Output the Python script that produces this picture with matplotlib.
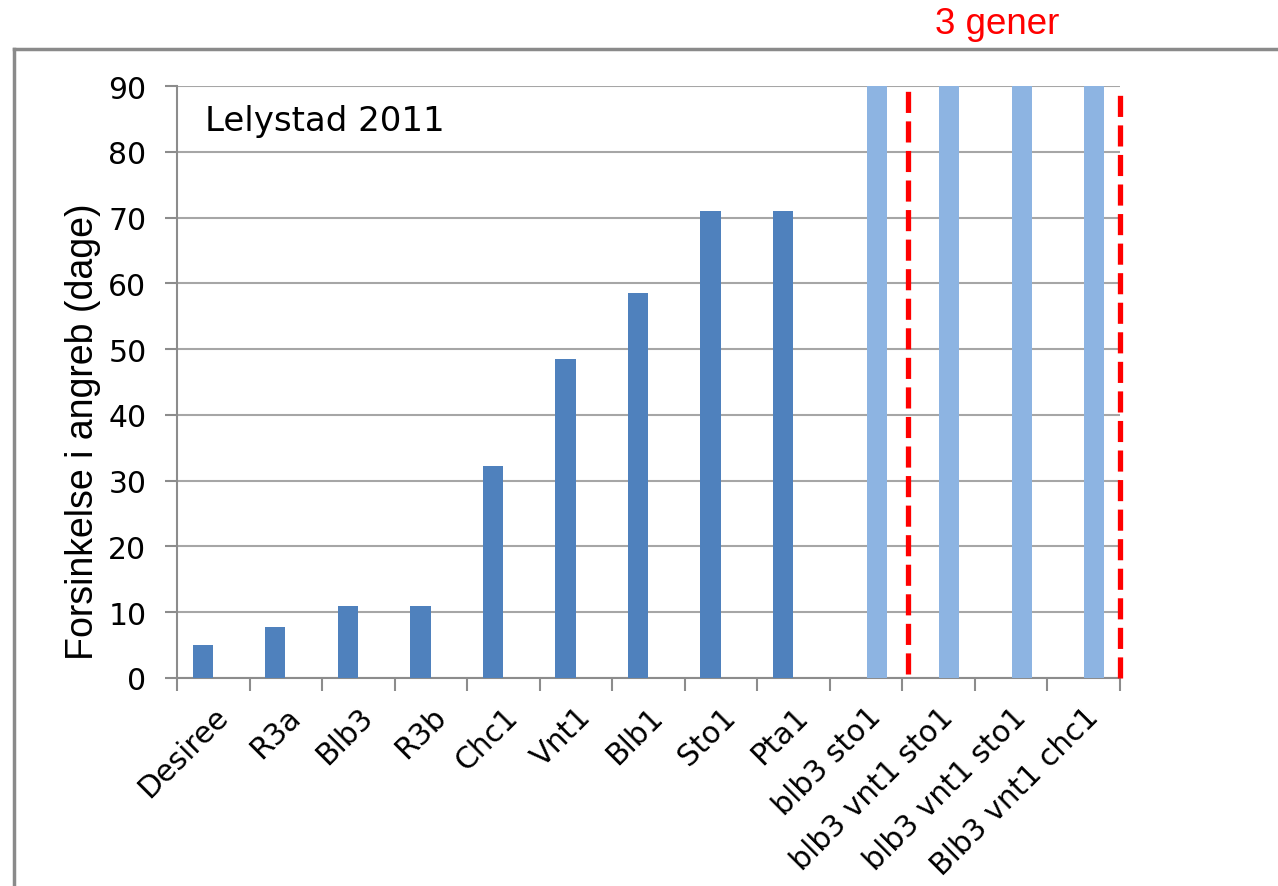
import matplotlib
matplotlib.use("Agg")
import matplotlib.pyplot as plt
import matplotlib.transforms as mtransforms
import numpy as np
from matplotlib.lines import Line2D

# delay of late blight attack per resistance gene / gene stack
genes = ['Desiree', 'R3a', 'Blb3', 'R3b', 'Chc1', 'Vnt1', 'Blb1', 'Sto1', 'Pta1',
         'blb3 sto1', 'blb3 vnt1 sto1', 'blb3 vnt1 sto1', 'Blb3 vnt1 chc1']
single_gene = [5, 7.8, 11, 11, 32.2, 48.5, 58.5, 71, 71, 0, 0, 0, 0]
gene_stack = [0, 0, 0, 0, 0, 0, 0, 0, 0, 90, 90, 90, 90]
yticks = list(range(0, 100, 10))

DARK = "#4F81BD"
LIGHT = "#8DB4E2"
AXIS_GREY = "#8C8C8C"
TICK_FONT = "DejaVu Sans"

fig = plt.figure(figsize=(12.78, 8.87), dpi=100)
fig.patch.set_facecolor("white")
ax = fig.add_axes([0.1385, 0.2345, 0.7379, 0.6674])

# two series side by side, as in a clustered column chart
x = np.arange(len(genes))
ax.bar(x - 0.145, single_gene, width=0.28, color=DARK, zorder=3)
ax.bar(x + 0.145, gene_stack, width=0.28, color=LIGHT, zorder=3)

ax.set_xlim(-0.5, len(genes) - 0.5)
ax.set_ylim(0, 90)
ax.set_yticks(yticks)
ax.set_yticklabels([str(v) for v in yticks], fontsize=21.5, family=TICK_FONT)
ax.yaxis.grid(True, color="#A6A6A6", linewidth=1.5, zorder=0)
ax.set_axisbelow(True)

for s in ['top', 'right']:
    ax.spines[s].set_visible(False)
for s in ['left', 'bottom']:
    ax.spines[s].set_color(AXIS_GREY)
    ax.spines[s].set_linewidth(1.5)

ax.tick_params(axis='y', length=9, width=1.5, color=AXIS_GREY, pad=13)
# labels centred under categories, tick marks between categories
ax.set_xticks(x)
labels = ax.set_xticklabels(genes, rotation=45, ha='right', va='top',
                            rotation_mode='anchor', fontsize=21.5,
                            family=TICK_FONT)
shift = mtransforms.ScaledTranslation(-5 / 100, 0, fig.dpi_scale_trans)
for lab in labels:
    lab.set_transform(lab.get_transform() + shift)
ax.tick_params(axis='x', which='major', length=0, pad=17)
ax.set_xticks(np.arange(-0.5, len(genes)), minor=True)
ax.tick_params(axis='x', which='minor', length=9, width=1.5, color=AXIS_GREY)

ax.set_ylabel("Forsinkelse i angreb (dage)", fontsize=27,
              family="Liberation Sans")
ax.yaxis.set_label_coords(-0.081, 0.417)

ax.text(0.03, 0.941, "Lelystad 2011", transform=ax.transAxes,
        fontsize=24.5, family=TICK_FONT, va='center', ha='left')

# red dashed brackets around the 3-gene stacks
for xs, y0, y1 in [(9.58, 0.6, 90), (12.5, 0, 89)]:
    ax.add_line(Line2D([xs, xs], [y0, y1], color="red", linewidth=3.8,
                       linestyle=(0, (4, 1.6)), clip_on=False, zorder=4))

fig.text(997 / 1278, 1 - 24 / 887, "3 gener", color="red", fontsize=26.5,
         family="Liberation Sans", ha='center', va='center')

# slide frame
fig.add_artist(Line2D([14 / 1278, 1.0], [1 - 50 / 887, 1 - 50 / 887],
                      color="#8A8A8A", linewidth=2.5))
fig.add_artist(Line2D([14 / 1278, 14 / 1278], [1 - 50 / 887, 0.0],
                      color="#8A8A8A", linewidth=2.5))

fig.savefig("out.png", dpi=100)
